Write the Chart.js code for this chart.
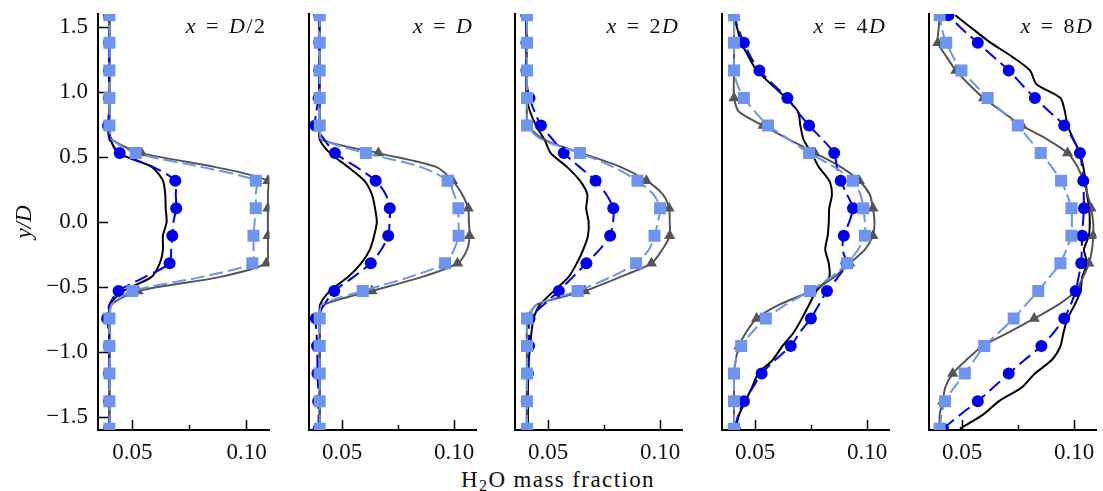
<!DOCTYPE html>
<html>
<head>
<meta charset="utf-8">
<script src="https://cdn.jsdelivr.net/npm/chart.js@4.4.1/dist/chart.umd.min.js"></script>
<style>
  body { margin: 0; background: #fff; }
  #wrap { position: relative; width: 1103px; height: 491px; overflow: hidden; }
  #wrap canvas { position: absolute; top: 0; }
  #xlabel {
    position: absolute; top: 468px; left: 558px; transform: translateX(-50%);
    font: 23px "Liberation Serif", "Times New Roman", serif; line-height: 23px; letter-spacing: 1.4px;
    white-space: nowrap; color: #111;
  }
  #xlabel sub { font-size: 16px; line-height: 0; vertical-align: -4px; }
</style>
</head>
<body>
<div id="wrap">
  <div id="xlabel">H<sub>2</sub>O mass fraction</div>
</div>
<script>
// sample heights y/D, bottom to top (markers on every other one)
const yGrid = [-1.59, -1.484, -1.378, -1.272, -1.166, -1.06, -0.954, -0.848, -0.742, -0.636,
  -0.53, -0.424, -0.318, -0.212, -0.106, 0, 0.106, 0.212, 0.318, 0.424,
  0.53, 0.636, 0.742, 0.848, 0.954, 1.06, 1.166, 1.272, 1.378, 1.484, 1.59];
const yTicks = [-1.5, -1.0, -0.5, 0, 0.5, 1.0, 1.5];
const xTicks = [0.05, 0.10];
const xMinor = [0.075];
const panelTitles = ["x = D/2", "x = D", "x = 2D", "x = 4D", "x = 8D"];

// x = D/2
const p1Black = [0.040, 0.040, 0.040, 0.040, 0.040, 0.040, 0.040, 0.040, 0.040, 0.0402,
  0.046, 0.0583, 0.062, 0.0634, 0.0634, 0.065, 0.0646, 0.0644, 0.0634, 0.0585,
  0.044, 0.0405, 0.040, 0.040, 0.040, 0.040, 0.040, 0.040, 0.040, 0.040, 0.040];
const p1Gray = [0.040, 0.040, 0.040, 0.040, 0.040, 0.040, 0.040, 0.040, 0.040, 0.041,
  0.0525, 0.088, 0.1086, 0.1093, 0.1093, 0.1093, 0.1093, 0.1093, 0.1093, 0.086,
  0.054, 0.041, 0.040, 0.040, 0.040, 0.040, 0.040, 0.040, 0.040, 0.040, 0.040];
const p1Blue = [0.0398, 0.0398, 0.0398, 0.0398, 0.0398, 0.0398, 0.0398, 0.0398, 0.039, 0.040,
  0.044, 0.0554, 0.0663, 0.067, 0.0675, 0.068, 0.0692, 0.069, 0.0688, 0.059,
  0.0445, 0.040, 0.0394, 0.0398, 0.0398, 0.0398, 0.0398, 0.0398, 0.0398, 0.0398, 0.0398];
const p1Light = [0.040, 0.040, 0.040, 0.040, 0.040, 0.040, 0.040, 0.040, 0.040, 0.041,
  0.050, 0.080, 0.1025, 0.103, 0.103, 0.1035, 0.104, 0.104, 0.104, 0.080,
  0.0515, 0.041, 0.040, 0.040, 0.040, 0.040, 0.040, 0.040, 0.040, 0.040, 0.040];

// x = D
const p2Black = [0.040, 0.040, 0.040, 0.040, 0.040, 0.040, 0.040, 0.040, 0.040, 0.0402,
  0.0446, 0.0526, 0.0585, 0.0624, 0.0643, 0.0655, 0.0647, 0.0633, 0.0599, 0.0526,
  0.0446, 0.040, 0.040, 0.040, 0.040, 0.040, 0.040, 0.040, 0.040, 0.040, 0.040];
const p2Gray = [0.040, 0.040, 0.040, 0.040, 0.040, 0.040, 0.040, 0.040, 0.040, 0.042,
  0.0633, 0.0854, 0.1015, 0.1058, 0.1069, 0.1066, 0.1063, 0.1036, 0.0993, 0.092,
  0.0662, 0.0405, 0.040, 0.040, 0.040, 0.040, 0.040, 0.040, 0.040, 0.040, 0.040];
const p2Blue = [0.0395, 0.0395, 0.0393, 0.0393, 0.039, 0.039, 0.0388, 0.0386, 0.0383, 0.042,
  0.0465, 0.055, 0.0628, 0.0675, 0.0706, 0.0712, 0.0713, 0.0695, 0.065, 0.0563,
  0.0468, 0.042, 0.038, 0.0385, 0.0395, 0.0398, 0.0398, 0.0398, 0.0398, 0.0398, 0.0398];
const p2Light = [0.040, 0.040, 0.040, 0.040, 0.040, 0.040, 0.040, 0.040, 0.040, 0.041,
  0.0592, 0.080, 0.096, 0.100, 0.102, 0.102, 0.1019, 0.100, 0.0971, 0.085,
  0.0606, 0.041, 0.040, 0.040, 0.040, 0.040, 0.040, 0.040, 0.040, 0.040, 0.040];

// x = 2D
const p3Black = [0.041, 0.041, 0.041, 0.041, 0.0412, 0.0414, 0.042, 0.0426, 0.0435, 0.0464,
  0.0526, 0.0591, 0.0628, 0.0657, 0.0678, 0.0681, 0.067, 0.0675, 0.0642, 0.0584,
  0.0512, 0.0483, 0.0446, 0.042, 0.0403, 0.0403, 0.0403, 0.0403, 0.0403, 0.0403, 0.0403];
const p3Gray = [0.0405, 0.0405, 0.0405, 0.0405, 0.0405, 0.0405, 0.0405, 0.0405, 0.041, 0.045,
  0.0664, 0.082, 0.0961, 0.101, 0.1043, 0.1043, 0.104, 0.1012, 0.0939, 0.0823,
  0.065, 0.048, 0.041, 0.0405, 0.0405, 0.0405, 0.0405, 0.0405, 0.0405, 0.0405, 0.0405];
const p3Blue = [0.0405, 0.0405, 0.0405, 0.0405, 0.041, 0.0412, 0.0415, 0.0415, 0.0417, 0.048,
  0.0548, 0.061, 0.0671, 0.073, 0.0777, 0.079, 0.0791, 0.076, 0.0712, 0.064,
  0.057, 0.052, 0.0468, 0.044, 0.0417, 0.0405, 0.0403, 0.0403, 0.0403, 0.0403, 0.0403];
const p3Light = [0.0406, 0.0406, 0.0406, 0.0406, 0.0406, 0.0406, 0.0406, 0.0406, 0.0406, 0.045,
  0.0632, 0.078, 0.0893, 0.095, 0.0975, 0.099, 0.100, 0.097, 0.0899, 0.079,
  0.0642, 0.047, 0.0406, 0.0406, 0.0406, 0.0406, 0.0406, 0.0406, 0.0406, 0.0406, 0.0406];

// x = 4D
const p4Black = [0.0414, 0.0428, 0.0457, 0.0486, 0.0514, 0.0579, 0.0622, 0.0673, 0.0709, 0.0741,
  0.0774, 0.0831, 0.0829, 0.0813, 0.0824, 0.0829, 0.0831, 0.0843, 0.0831, 0.0784,
  0.0752, 0.0716, 0.0702, 0.0692, 0.0637, 0.0572, 0.0507, 0.0471, 0.0438, 0.0421, 0.0405];
const p4Gray = [0.0406, 0.0406, 0.0406, 0.0406, 0.0406, 0.0414, 0.0428, 0.046, 0.0507, 0.0608,
  0.0752, 0.0853, 0.0922, 0.099, 0.1026, 0.1033, 0.1026, 0.1012, 0.0965, 0.0882,
  0.0767, 0.0651, 0.0536, 0.0428, 0.0406, 0.0405, 0.0406, 0.0406, 0.0406, 0.0406, 0.0406];
const p4Blue = [0.0409, 0.0425, 0.045, 0.049, 0.0529, 0.059, 0.0659, 0.070, 0.0749, 0.0785,
  0.0821, 0.087, 0.0908, 0.089, 0.0896, 0.092, 0.0937, 0.091, 0.0882, 0.0865,
  0.0853, 0.080, 0.0741, 0.069, 0.0644, 0.058, 0.0519, 0.048, 0.045, 0.0425, 0.0406];
const p4Light = [0.0406, 0.0406, 0.0406, 0.0406, 0.0406, 0.0414, 0.0438, 0.0486, 0.0548, 0.0637,
  0.0745, 0.0839, 0.0911, 0.096, 0.099, 0.099, 0.0983, 0.097, 0.0937, 0.0853,
  0.0741, 0.065, 0.0558, 0.050, 0.045, 0.042, 0.0406, 0.0406, 0.0406, 0.0406, 0.0406];

// x = 8D
const p5Black = [0.049, 0.0592, 0.0665, 0.0767, 0.0825, 0.0901, 0.0939, 0.0953, 0.0971, 0.1003,
  0.1029, 0.1036, 0.1058, 0.1044, 0.1066, 0.107, 0.1067, 0.1058, 0.1051, 0.1041,
  0.1026, 0.0997, 0.0971, 0.0959, 0.0939, 0.0832, 0.0803, 0.0723, 0.0628, 0.0548, 0.047];
const p5Gray = [0.040, 0.040, 0.0414, 0.0425, 0.0458, 0.052, 0.0592, 0.071, 0.0822, 0.093,
  0.1007, 0.104, 0.1066, 0.108, 0.1085, 0.1085, 0.1076, 0.106, 0.1041, 0.1015,
  0.0971, 0.088, 0.0767, 0.068, 0.0596, 0.053, 0.0472, 0.043, 0.0392, 0.0395, 0.040];
const p5Blue = [0.0415, 0.049, 0.057, 0.064, 0.0708, 0.078, 0.0854, 0.091, 0.0956, 0.0985,
  0.1007, 0.102, 0.1032, 0.1034, 0.1036, 0.104, 0.1044, 0.1043, 0.1041, 0.1035,
  0.1026, 0.0995, 0.0956, 0.089, 0.0825, 0.0765, 0.0708, 0.064, 0.057, 0.050, 0.0439];
const p5Light = [0.040, 0.0408, 0.0424, 0.0465, 0.0512, 0.0555, 0.0599, 0.0665, 0.073, 0.0785,
  0.084, 0.089, 0.0939, 0.0965, 0.0988, 0.099, 0.0988, 0.0968, 0.0942, 0.090,
  0.0851, 0.080, 0.0749, 0.068, 0.0614, 0.0555, 0.0497, 0.046, 0.0429, 0.041, 0.040];

const panels = [
  { black: p1Black, gray: p1Gray, blue: p1Blue, light: p1Light },
  { black: p2Black, gray: p2Gray, blue: p2Blue, light: p2Light },
  { black: p3Black, gray: p3Gray, blue: p3Blue, light: p3Light },
  { black: p4Black, gray: p4Gray, blue: p4Blue, light: p4Light },
  { black: p5Black, gray: p5Gray, blue: p5Blue, light: p5Light },
];

const LIGHT = "#6d94ee";
const BLUE = "#0000f0";
const GRAY = "#555555";
const FONT = "'Liberation Serif', 'Times New Roman', serif";

const canvasLeft = [0, 300, 506, 713, 920];
const axisWidth = [98, 5, 5, 5, 5];
const plotWidth = 172;
const padRight = 8;

Chart.defaults.font.family = FONT;
Chart.defaults.color = "#111";

function toPoints(xs) {
  return xs.map((x, i) => ({ x: x, y: yGrid[i] }));
}
function everyOther(r) {
  return (c) => (c.dataIndex % 2 === 0 ? r : 0);
}
function noOverflow(s) {
  s.paddingTop = 0;
  s.paddingBottom = 0;
  s.paddingLeft = 0;
  s.paddingRight = 0;
}

// panel title, letters in italic like math text
const panelTitle = {
  id: "panelTitle",
  afterDraw(chart, args, opts) {
    const { ctx, chartArea } = chart;
    const parts = [];
    let total = 0;
    for (const ch of opts.text) {
      const italic = /[A-Za-z]/.test(ch);
      ctx.font = (italic ? "italic " : "") + "22px " + FONT;
      const w = ch === " " ? 9 : ctx.measureText(ch).width + 1.5;
      parts.push({ ch, italic, w });
      total += w;
    }
    ctx.save();
    ctx.fillStyle = "#111";
    ctx.textBaseline = "alphabetic";
    let x = chartArea.right - 3 - total;
    for (const p of parts) {
      if (p.ch !== " ") {
        ctx.font = (p.italic ? "italic " : "") + "22px " + FONT;
        ctx.fillText(p.ch, x, chartArea.top + 19);
      }
      x += p.w;
    }
    ctx.restore();
  },
};

const wrap = document.getElementById("wrap");

panels.forEach((p, i) => {
  const canvas = document.createElement("canvas");
  canvas.width = axisWidth[i] + plotWidth + padRight;
  canvas.height = 491;
  canvas.style.left = canvasLeft[i] + "px";
  wrap.appendChild(canvas);

  const first = i === 0;

  new Chart(canvas.getContext("2d"), {
    type: "scatter",
    data: {
      datasets: [
        {
          data: toPoints(p.light),
          showLine: true,
          borderColor: LIGHT,
          backgroundColor: LIGHT,
          borderWidth: 2,
          borderDash: [14, 5],
          tension: 0.25,
          pointStyle: "rect",
          pointRadius: everyOther(8.5),
          pointBorderWidth: 0,
        },
        {
          data: toPoints(p.blue),
          showLine: true,
          borderColor: BLUE,
          backgroundColor: BLUE,
          borderWidth: 2,
          borderDash: [14, 6],
          tension: 0.25,
          pointStyle: "circle",
          pointRadius: everyOther(6),
          pointBorderWidth: 0,
        },
        {
          data: toPoints(p.gray),
          showLine: true,
          borderColor: GRAY,
          backgroundColor: GRAY,
          borderWidth: 2,
          tension: 0.25,
          pointStyle: "triangle",
          pointRadius: everyOther(6.5),
          pointBorderWidth: 0,
        },
        {
          data: toPoints(p.black),
          showLine: true,
          borderColor: "#000",
          borderWidth: 2,
          tension: 0.25,
          pointRadius: 0,
        },
      ],
    },
    options: {
      responsive: false,
      animation: false,
      events: [],
      layout: { padding: { top: 14, right: padRight, bottom: 0, left: 0 } },
      plugins: {
        legend: { display: false },
        tooltip: { enabled: false },
        panelTitle: { text: panelTitles[i] },
      },
      scales: {
        x: {
          type: "linear",
          position: "bottom",
          weight: 1,
          min: 0.035,
          max: 0.11,
          afterBuildTicks: (s) => { s.ticks = xTicks.map((v) => ({ value: v })); },
          afterFit: (s) => { s.height = 61; noOverflow(s); },
          ticks: {
            autoSkip: false,
            maxRotation: 0,
            padding: 19,
            font: { size: 23 },
            callback: (v) => v.toFixed(2),
          },
          grid: { drawOnChartArea: false, tickLength: -10, tickWidth: 1.5, tickColor: "#000" },
          border: { display: true, color: "#000", width: 2 },
        },
        xm: {
          type: "linear",
          position: "bottom",
          weight: 0,
          min: 0.035,
          max: 0.11,
          afterBuildTicks: (s) => { s.ticks = xMinor.map((v) => ({ value: v })); },
          afterFit: (s) => { s.height = 0; noOverflow(s); },
          ticks: { display: false },
          grid: { drawOnChartArea: false, tickLength: -5, tickWidth: 1.5, tickColor: "#000" },
          border: { display: false },
        },
        y: {
          type: "linear",
          min: -1.6,
          max: 1.6,
          afterBuildTicks: (s) => { s.ticks = yTicks.map((v) => ({ value: v })); },
          afterFit: (s) => { s.width = axisWidth[i]; noOverflow(s); },
          ticks: {
            display: first,
            padding: 20,
            font: { size: 23 },
            callback: (v) => (v < 0 ? "\u2212" : "") + Math.abs(v).toFixed(1),
          },
          grid: { drawOnChartArea: false, drawTicks: first, tickLength: -10, tickWidth: 1.5, tickColor: "#000" },
          border: { display: true, color: "#000", width: 2 },
          title: {
            display: first,
            text: "y/D",
            font: { size: 23, style: "italic" },
            padding: { top: 11, bottom: 0 },
          },
        },
      },
    },
    plugins: [panelTitle],
  });
});
</script>
</body>
</html>
